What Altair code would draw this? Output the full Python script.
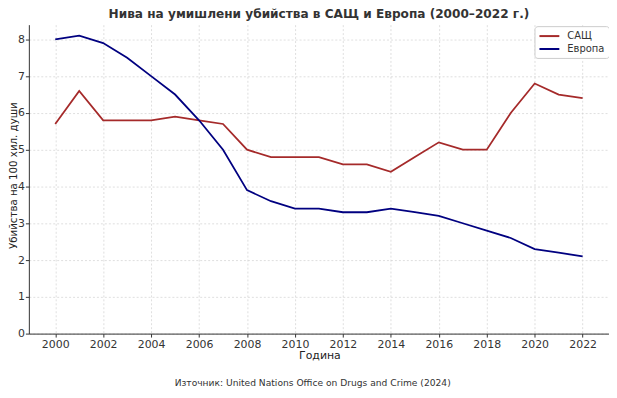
import altair as alt
import pandas as pd

years = list(range(2000, 2023))
usa = [5.7, 6.6, 5.8, 5.8, 5.8, 5.9, 5.8, 5.7, 5.0, 4.8, 4.8, 4.8, 4.6, 4.6, 4.4, 4.8, 5.2, 5.0, 5.0, 6.0, 6.8, 6.5, 6.4]
europe = [8.0, 8.1, 7.9, 7.5, 7.0, 6.5, 5.8, 5.0, 3.9, 3.6, 3.4, 3.4, 3.3, 3.3, 3.4, 3.3, 3.2, 3.0, 2.8, 2.6, 2.3, 2.2, 2.1]
series_names = ["САЩ", "Европа"]
series_colors = ["#a52a2a", "#000080"]
x_ticks = list(range(2000, 2023, 2))
y_ticks = list(range(0, 9))
title_text = "Нива на умишлени убийства в САЩ и Европа (2000–2022 г.)"
source_text = "Източник: United Nations Office on Drugs and Crime (2024)"

rows = []
for y, v in zip(years, usa):
    rows.append({"Година": y, "Стойност": v, "Регион": series_names[0]})
for y, v in zip(years, europe):
    rows.append({"Година": y, "Стойност": v, "Регион": series_names[1]})
df = pd.DataFrame(rows)

FONT = "DejaVu Sans"

lines = alt.Chart(df).mark_line(strokeWidth=1.8).encode(
    x=alt.X("Година:Q",
            scale=alt.Scale(domain=[1998.9, 2023.1], nice=False, zero=False),
            axis=alt.Axis(values=x_ticks, format="d", title="Година",
                          titleX=292.5, titleY=25.5, titleBaseline="alphabetic",
                          titleAlign="center", labelPadding=1)),
    y=alt.Y("Стойност:Q",
            scale=alt.Scale(domain=[0, 8.4], nice=False),
            axis=alt.Axis(values=y_ticks, format="d", title="Убийства на 100 хил. души",
                          titleX=-15.8, titleY=151.5, titleAngle=-90,
                          titleBaseline="middle", titleAlign="center",
                          titleFontSize=10.3, labelPadding=1)),
    color=alt.Color("Регион:N",
                    scale=alt.Scale(domain=series_names, range=series_colors),
                    legend=alt.Legend(title=None, orient="none", legendX=509, legendY=1.5,
                                      symbolType="M-1,0H3", symbolSize=100,
                                      symbolStrokeWidth=2, labelFontSize=10,
                                      labelFont=FONT, labelColor="#333",
                                      fillColor="white", strokeColor="#cccccc",
                                      cornerRadius=3, padding=4, rowPadding=2,
                                      labelOffset=17)),
)

source = alt.Chart(pd.DataFrame({"t": [source_text]})).mark_text(
    font=FONT, fontSize=9.2, color="#333", align="center", baseline="middle"
).encode(text="t:N", x=alt.value(285.7), y=alt.value(360.5))

title = alt.Chart(pd.DataFrame({"t": [title_text]})).mark_text(
    font=FONT, fontSize=12.2, fontWeight="bold", color="#333",
    align="center", baseline="alphabetic"
).encode(text="t:N", x=alt.value(292), y=alt.value(-7))

chart = alt.layer(lines, source, title).properties(
    width=584, height=311,
    autosize=alt.AutoSizeParams(type="none"),
    padding={"left": 21, "top": 15.5, "right": 0, "bottom": 55},
).configure_view(stroke=None).configure_axis(
    labelFont=FONT, titleFont=FONT, labelFontSize=11, titleFontSize=11,
    labelColor="#333", titleColor="#222", titleFontWeight="normal",
    domainColor="#333", tickColor="#333", tickSize=3.5,
    gridColor="#cccccc", gridDash=[2, 2], gridOpacity=0.8, gridWidth=0.8,
)

chart.save("out.html", embed_options={"renderer": "svg", "actions": False})
